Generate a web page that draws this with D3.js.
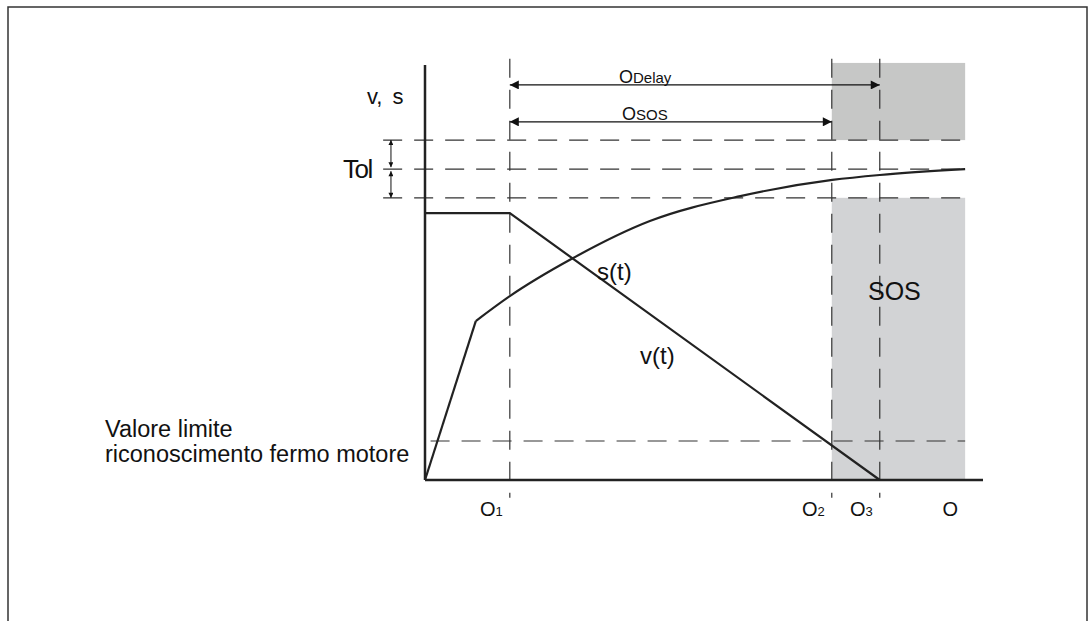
<!DOCTYPE html>
<html>
<head>
<meta charset="utf-8">
<script src="https://cdn.jsdelivr.net/npm/d3@7"></script>
<style>
  body { margin: 0; background: #fff; }
  svg text { font-family: "Liberation Sans", Arial, sans-serif; fill: #111; }
</style>
</head>
<body>
<div id="chart"></div>
<script>
// time values (0 = start, 100 = end of time axis), level values (0..100 of v,s axis)
var tStart = 0, tEnd = 100, tBoxEnd = 96.8;
var t1 = 15.2, t2 = 72.9, t3 = 81.5;

var vTimes  = [0, 15.2, 81.5];
var vValues = [64.3, 64.3, 0];

var sRampTimes  = [0, 9.1];
var sRampValues = [0, 38.3];
var sTimes  = [9.1, 15.2, 26.3, 40.3, 56.5, 73.0, 81.5, 96.8];
var sValues = [38.3, 44.3, 53.3, 62.4, 68.4, 72.3, 73.5, 74.9];

var tolLevels = [81.9, 74.9, 68.0];
var limitLevel = 9.4;
var delayLevel = 95.2, sosLevel = 86.3;

var tickTimes = [t1, t2, t3, tBoxEnd];
var tickMain  = ["O", "O", "O", "O"];
var tickSub   = ["1", "2", "3", ""];

var width = 1090, height = 621;
var svg = d3.select("#chart").append("svg").attr("width", width).attr("height", height);

var x = d3.scaleLinear().domain([tStart, tEnd]).range([425, 983]);
var y = d3.scaleLinear().domain([0, 100]).range([480, 65]);

// outer frame
svg.append("rect").attr("x", 8).attr("y", 7).attr("width", 1079).attr("height", 640)
   .attr("fill", "none").attr("stroke", "#333").attr("stroke-width", 1.5);

// arrow markers
var defs = svg.append("defs");
defs.append("marker").attr("id", "arr").attr("viewBox", "0 0 10 10").attr("refX", 10).attr("refY", 5)
    .attr("markerWidth", 12).attr("markerHeight", 9).attr("markerUnits", "userSpaceOnUse")
    .attr("orient", "auto-start-reverse")
    .append("path").attr("d", "M0,0 L10,5 L0,10 z").attr("fill", "#111");
defs.append("marker").attr("id", "arrSmall").attr("viewBox", "0 0 10 10").attr("refX", 10).attr("refY", 5)
    .attr("markerWidth", 6).attr("markerHeight", 5).attr("markerUnits", "userSpaceOnUse")
    .attr("orient", "auto-start-reverse")
    .append("path").attr("d", "M0,0 L10,5 L0,10 z").attr("fill", "#111");

// SOS grey zones
svg.append("rect").attr("x", x(t2)).attr("y", y(100.5)).attr("width", x(tBoxEnd) - x(t2))
   .attr("height", y(tolLevels[0]) - y(100.5)).attr("fill", "#c6c7c6");
svg.append("rect").attr("x", x(t2)).attr("y", y(tolLevels[2])).attr("width", x(tBoxEnd) - x(t2))
   .attr("height", y(0) - y(tolLevels[2])).attr("fill", "#d2d3d5");

var dash = "19,12";

// horizontal dashed lines
svg.selectAll("line.tol").data(tolLevels).enter().append("line")
   .attr("x1", x(-7.5)).attr("x2", x(tBoxEnd))
   .attr("y1", function(d){ return y(d); }).attr("y2", function(d){ return y(d); })
   .attr("stroke", "#333").attr("stroke-width", 1.2).attr("stroke-dasharray", dash);
svg.append("line").attr("x1", x(1)).attr("x2", x(tBoxEnd))
   .attr("y1", y(limitLevel)).attr("y2", y(limitLevel))
   .attr("stroke", "#333").attr("stroke-width", 1.2).attr("stroke-dasharray", dash);

// vertical dashed lines
svg.selectAll("line.vt").data([t1, t2, t3]).enter().append("line")
   .attr("x1", function(d){ return x(d); }).attr("x2", function(d){ return x(d); })
   .attr("y1", y(101.5)).attr("y2", y(-4.3))
   .attr("stroke", "#333").attr("stroke-width", 1.2).attr("stroke-dasharray", dash);

// axes
svg.append("line").attr("x1", x(0)).attr("x2", x(0)).attr("y1", y(100)).attr("y2", y(0))
   .attr("stroke", "#222").attr("stroke-width", 2.5);
svg.append("line").attr("x1", x(0)).attr("x2", x(tEnd)).attr("y1", y(0)).attr("y2", y(0))
   .attr("stroke", "#222").attr("stroke-width", 2.5);

// v(t)
var line = d3.line().x(function(d){ return x(d[0]); }).y(function(d){ return y(d[1]); });
svg.append("path").attr("d", line(d3.zip(vTimes, vValues)))
   .attr("fill", "none").attr("stroke", "#222").attr("stroke-width", 2.2);

// s(t)
svg.append("path").attr("d", line(d3.zip(sRampTimes, sRampValues)))
   .attr("fill", "none").attr("stroke", "#222").attr("stroke-width", 2.2);
var curve = d3.line().curve(d3.curveMonotoneX).x(function(d){ return x(d[0]); }).y(function(d){ return y(d[1]); });
svg.append("path").attr("d", curve(d3.zip(sTimes, sValues)))
   .attr("fill", "none").attr("stroke", "#222").attr("stroke-width", 2.2);

// delay and SOS arrows
svg.append("line").attr("x1", x(t1)).attr("x2", x(t3)).attr("y1", y(delayLevel)).attr("y2", y(delayLevel))
   .attr("stroke", "#111").attr("stroke-width", 1.2)
   .attr("marker-start", "url(#arr)").attr("marker-end", "url(#arr)");
svg.append("line").attr("x1", x(t1)).attr("x2", x(t2)).attr("y1", y(sosLevel)).attr("y2", y(sosLevel))
   .attr("stroke", "#111").attr("stroke-width", 1.2)
   .attr("marker-start", "url(#arr)").attr("marker-end", "url(#arr)");

var dl = svg.append("text").attr("x", 619).attr("y", y(delayLevel) - 2);
dl.append("tspan").attr("font-size", 18).text("O");
dl.append("tspan").attr("font-size", 15).text("Delay");
var sl = svg.append("text").attr("x", 622).attr("y", y(sosLevel) - 2);
sl.append("tspan").attr("font-size", 18).text("O");
sl.append("tspan").attr("font-size", 15).text("SOS");

// tolerance arrows
var tolX = x(-6.1);
svg.append("line").attr("x1", tolX).attr("x2", tolX).attr("y1", y(tolLevels[1]) - 2).attr("y2", y(tolLevels[0]))
   .attr("stroke", "#111").attr("stroke-width", 1)
   .attr("marker-start", "url(#arrSmall)").attr("marker-end", "url(#arrSmall)");
svg.append("line").attr("x1", tolX).attr("x2", tolX).attr("y1", y(tolLevels[1]) + 2).attr("y2", y(tolLevels[2]))
   .attr("stroke", "#111").attr("stroke-width", 1)
   .attr("marker-start", "url(#arrSmall)").attr("marker-end", "url(#arrSmall)");

// labels
svg.append("text").attr("x", 367).attr("y", 104).attr("font-size", 22).attr("word-spacing", 4).text("v, s");
svg.append("text").attr("x", 343).attr("y", y(tolLevels[1]) + 9).attr("font-size", 26)
   .attr("letter-spacing", -1.5).text("Tol");
svg.append("text").attr("x", 105).attr("y", 437).attr("font-size", 23.5).text("Valore limite");
svg.append("text").attr("x", 105).attr("y", 462).attr("font-size", 23.5).text("riconoscimento fermo motore");
svg.append("text").attr("x", 597).attr("y", 280).attr("font-size", 24).text("s(t)");
svg.append("text").attr("x", 640).attr("y", 364).attr("font-size", 24).text("v(t)");
svg.append("text").attr("x", 868).attr("y", 300).attr("font-size", 25).text("SOS");

// tick labels under the time axis
var ticks = svg.selectAll("text.tick").data(tickTimes).enter().append("text")
   .attr("x", function(d){ return x(d) - 7; }).attr("y", 516).attr("text-anchor", "end");
ticks.append("tspan").attr("font-size", 20).text(function(d, i){ return tickMain[i]; });
ticks.append("tspan").attr("font-size", 13).text(function(d, i){ return tickSub[i]; });
</script>
</body>
</html>
